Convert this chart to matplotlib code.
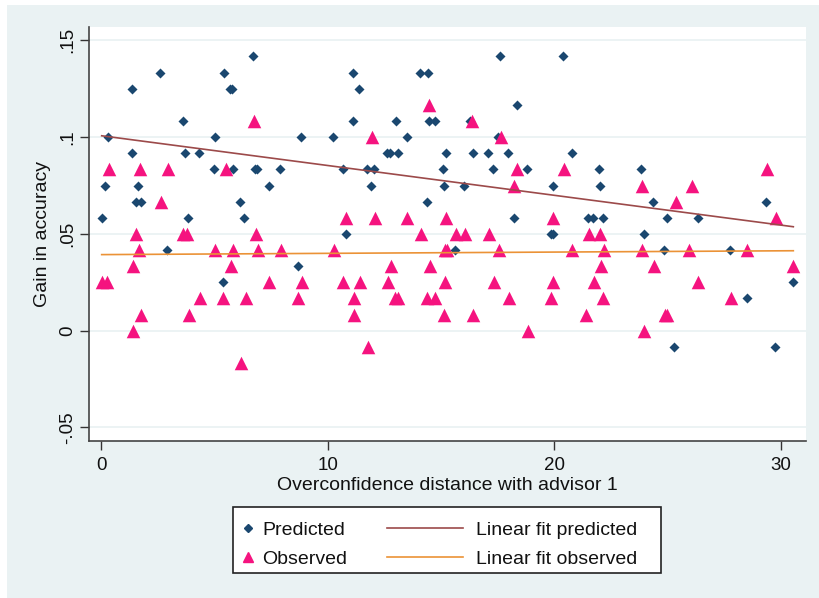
import matplotlib.pyplot as plt
from matplotlib.lines import Line2D
from matplotlib.patches import Rectangle

plt.rcParams['font.family'] = ['Liberation Sans', 'DejaVu Sans']

# Predicted gain in accuracy (diamonds)
pred_x = [0.32, 1.38, 1.38, 2.58, 0.15, 1.64, 1.52, 1.76, 0.02, 3.61,
          3.72, 4.31, 3.84, 5.02, 4.97, 5.44, 5.70, 5.76, 5.82, 6.12,
          6.32, 6.69, 6.80, 6.90, 7.42, 7.89, 8.84, 2.89, 8.67, 5.38,
          10.25, 11.13, 11.40, 11.13, 13.02, 13.49, 12.60, 12.75, 13.12, 10.66,
          11.75, 12.04, 11.91, 14.37, 14.07, 14.44, 14.49, 14.74, 15.21, 15.08,
          15.15, 16.03, 16.40, 17.06, 17.30, 16.30, 17.61, 17.51, 17.97, 18.34,
          18.80, 18.21, 19.93, 19.85, 19.96, 10.79, 15.62,
          20.40, 20.77, 21.98, 22.02, 23.82, 24.38, 21.51, 21.73, 22.14, 24.97,
          26.34, 29.34, 23.96, 24.85, 27.76, 30.53, 28.50, 25.30, 29.75]
pred_y = [.1000, .0917, .1250, .1333, .0750, .0750, .0667, .0667, .0583, .1083,
          .0917, .0917, .0583, .1000, .0833, .1333, .1250, .1250, .0833, .0667,
          .0583, .1417, .0833, .0833, .0750, .0833, .1000, .0417, .0333, .0250,
          .1000, .1333, .1250, .1083, .1083, .1000, .0917, .0917, .0917, .0833,
          .0833, .0833, .0750, .0667, .1333, .1333, .1083, .1083, .0917, .0833,
          .0750, .0750, .0917, .0917, .0833, .1083, .1417, .1000, .0917, .1167,
          .0833, .0583, .0750, .0500, .0500, .0500, .0417,
          .1417, .0917, .0833, .0750, .0833, .0667, .0583, .0583, .0583, .0583,
          .0583, .0667, .0500, .0417, .0417, .0250, .0167, -.0083, -.0083]

# Observed gain in accuracy (triangles)
obs_x = [0.35, 1.72, 2.93, 2.64, 5.49, 6.73, 1.54, 3.62, 3.80, 6.85,
         1.67, 5.02, 5.82, 6.92, 7.92, 1.42, 5.75, 0.05, 0.25, 7.43,
         8.87, 4.36, 5.38, 6.38, 8.68, 1.76, 3.87, 1.42, 6.15,
         11.97, 14.47, 16.38, 17.64, 18.34, 18.24, 10.81, 12.09, 13.51, 15.24,
         19.93, 14.11, 15.65, 16.06, 17.12, 10.28, 15.18, 15.28, 17.58, 12.79,
         14.52, 10.69, 11.43, 12.68, 15.18, 17.33, 19.96, 11.18, 12.97, 13.12,
         14.37, 14.74, 18.00, 19.85, 11.18, 15.13, 16.43, 18.83, 11.77,
         20.45, 23.86, 26.07, 25.36, 29.38, 29.79, 21.55, 22.02, 20.80, 22.20,
         23.86, 25.95, 28.53, 22.05, 24.40, 30.56, 21.77, 26.36, 22.17, 27.81,
         21.40, 24.89, 24.99, 23.98]
obs_y = [.0833, .0833, .0833, .0667, .0833, .1083, .0500, .0500, .0500, .0500,
         .0417, .0417, .0417, .0417, .0417, .0333, .0333, .0250, .0250, .0250,
         .0250, .0167, .0167, .0167, .0167, .0083, .0083, .0000, -.0167,
         .1000, .1167, .1083, .1000, .0833, .0750, .0583, .0583, .0583, .0583,
         .0583, .0500, .0500, .0500, .0500, .0417, .0417, .0417, .0417, .0333,
         .0333, .0250, .0250, .0250, .0250, .0250, .0250, .0167, .0167, .0167,
         .0167, .0167, .0167, .0167, .0083, .0083, .0083, .0000, -.0083,
         .0833, .0750, .0750, .0667, .0833, .0583, .0500, .0500, .0417, .0417,
         .0417, .0417, .0417, .0333, .0333, .0333, .0250, .0250, .0167, .0167,
         .0083, .0083, .0083, .0000]

# Linear fits (end points)
fit_x = [0.02, 30.56]
fit_pred = [.1007, .0537]
fit_obs = [.0393, .0413]

x_ticks = [0, 10, 20, 30]
y_ticks = [-.05, 0, .05, .1, .15]
y_tick_labels = ['-.05', '0', '.05', '.1', '.15']

navy = '#1a476f'
pink = '#f5137f'
maroon = '#9c4a4a'
orange = '#eb9236'
bg = '#eaf2f3'

fig = plt.figure(figsize=(8.19, 5.98), dpi=100)
fig.patches.append(Rectangle((7 / 819, 0.5 / 598), 812 / 819, 592.5 / 598,
                             transform=fig.transFigure, facecolor=bg,
                             edgecolor='none', zorder=-1))
ax = fig.add_axes([89 / 819, 1 - 441 / 598, 717 / 819, 414 / 598])
ax.set_facecolor('white')

ax.scatter(pred_x, pred_y, marker='D', s=26, color=navy, linewidths=0, zorder=3)
ax.scatter(obs_x, obs_y, marker='^', s=95, color=pink, linewidths=0, zorder=4)
ax.plot(fit_x, fit_pred, color=maroon, lw=1.2, zorder=5)
ax.plot(fit_x, fit_obs, color=orange, lw=1.2, zorder=5)

ax.set_xlim(-0.54, 31.12)
ax.set_ylim(-0.057, 0.1569)
ax.set_xticks(x_ticks)
ax.set_xticklabels([str(t) for t in x_ticks])
ax.set_yticks(y_ticks)
ax.set_yticklabels(y_tick_labels, rotation=90, va='center')
ax.tick_params(axis='both', direction='out', length=6.5, width=1, color='#333333',
               labelsize=13.5, labelcolor='#111111')
ax.tick_params(axis='x', pad=5)
ax.tick_params(axis='y', pad=2.5)

ax.grid(axis='y', color=bg, lw=1.3)
ax.set_axisbelow(True)
for side in ['top', 'right']:
    ax.spines[side].set_visible(False)
for side in ['left', 'bottom']:
    ax.spines[side].set_color('#444444')
    ax.spines[side].set_linewidth(1.2)

ax.set_xlabel('Overconfidence distance with advisor 1', fontsize=14, color='#111111', labelpad=2)
ax.set_ylabel('Gain in accuracy', fontsize=14, color='#111111', labelpad=6)

# legend: box drawn by hand, marker column and line column as two legends
fig.patches.append(Rectangle((233 / 819, 1 - 573 / 598), 428 / 819, 66 / 598,
                             transform=fig.transFigure, facecolor='white',
                             edgecolor='#222222', lw=1.2, zorder=1))
mark_handles = [Line2D([], [], marker='D', ls='none', color=navy, markersize=4),
                Line2D([], [], marker='^', ls='none', color=pink, markersize=6.5)]
line_handles = [Line2D([], [], color=maroon, lw=1.2),
                Line2D([], [], color=orange, lw=1.2)]
leg1 = fig.legend(mark_handles, ['Predicted', 'Observed'], loc='upper left',
                  bbox_to_anchor=(240 / 819, 1 - 521 / 598), frameon=False,
                  fontsize=14, handlelength=0.8, handletextpad=0.36,
                  labelspacing=0.62, borderpad=0, borderaxespad=0)
leg2 = fig.legend(line_handles, ['Linear fit predicted', 'Linear fit observed'],
                  loc='upper left', bbox_to_anchor=(387 / 819, 1 - 521 / 598),
                  frameon=False, fontsize=14, handlelength=3.9, handletextpad=0.67,
                  labelspacing=0.62, borderpad=0, borderaxespad=0)
for leg in (leg1, leg2):
    leg.set_zorder(2)
    for t in leg.get_texts():
        t.set_color('#111111')

plt.savefig('out.png', dpi=100, facecolor='white')
